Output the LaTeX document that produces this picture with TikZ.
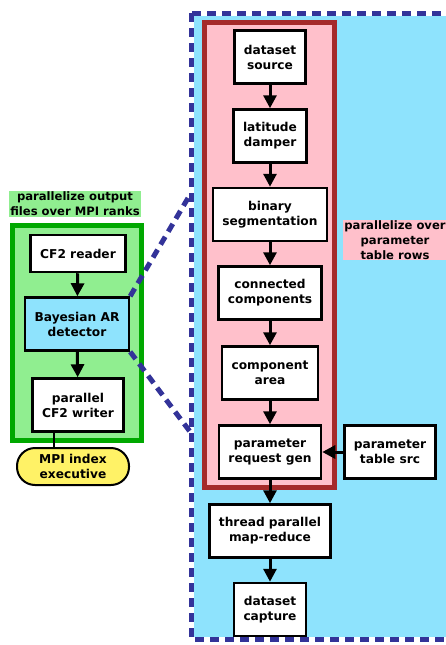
\documentclass[tikz,border=0pt]{standalone}
\usepackage{fontspec}
\setmainfont{DejaVu Sans}
\usetikzlibrary{arrows.meta}

\definecolor{skyblue}{HTML}{8EE3FD}
\definecolor{zoomnavy}{HTML}{333399}
\definecolor{rowpink}{HTML}{FFC0CB}
\definecolor{rowred}{HTML}{A52A2A}
\definecolor{rankgreen}{HTML}{90EE90}
\definecolor{rankborder}{HTML}{00A800}
\definecolor{execyellow}{HTML}{FFF266}

\begin{document}
\begin{tikzpicture}[x=1pt,y=-1pt,font=\fontsize{12.2}{15}\selectfont\bfseries]
		\tikzstyle{block} = [draw=black, line width=2.5pt, fill=white, align=center, inner xsep=9.5pt, minimum height=53pt]
		\tikzstyle{flow} = [-{Triangle[length=13pt,width=13pt]}, line width=3pt]
		\tikzstyle{zoomline} = [draw=zoomnavy, line width=5pt, dash pattern=on 9pt off 6pt]
		\tikzstyle{tag} = [align=center, inner sep=1pt, font=\fontsize{11.6}{15}\selectfont\bfseries]

		\clip (0,0) rectangle (446,645);

		% thread parallel region
		\fill[skyblue] (193.5,15.5) rectangle (470,636.5);
		\draw[zoomline] (191,13) rectangle (470,639);
		\draw[draw=rowred, line width=5pt, fill=rowpink] (204.5,22.5) rectangle (334.5,487.5);

		% MPI region
		\draw[draw=rankborder, line width=5pt, fill=rankgreen] (12.5,225.5) rectangle (141.5,440.5);
		\node[tag, fill=rankgreen] (ranklabel) at (75,204) {parallelize output\\files over MPI ranks};
		\node[tag, fill=rowpink] (rowlabel) at (395,240) {parallelize over\\parameter\\table rows};

		\node[block, minimum height=37pt] (reader) at (78,253.5) {CF2 reader};
		\node[block, fill=skyblue] (detector) at (77,324) {Bayesian AR\\detector};
		\node[block] (writer) at (78,405) {parallel\\CF2 writer};
		\node[draw=black, line width=2pt, fill=execyellow, align=center, rounded corners=18pt,
			minimum width=112pt, minimum height=37pt, inner sep=2pt] (exec) at (73,466.5) {MPI index\\executive};

		% pipeline
		\node[block] (source) at (270,57) {dataset\\source};
		\node[block] (damper) at (270,136) {latitude\\damper};
		\node[block] (segment) at (270,214.5) {binary\\segmentation};
		\node[block] (components) at (270,293) {connected\\components};
		\node[block] (area) at (270,373) {component\\area};
		\node[block] (reqgen) at (270,452) {parameter\\request gen};
		\node[block] (tablesrc) at (390,452) {parameter\\table src};
		\node[block] (mapreduce) at (270,531) {thread parallel\\map-reduce};
		\node[block] (capture) at (270,609.5) {dataset\\capture};

		\draw[flow] (reader) -- (detector);
		\draw[flow] (detector) -- (writer);
		\draw[line width=1.5pt] ([xshift=-24pt]writer.south) -- ([xshift=-24pt]writer.south |- exec.north);

		\draw[flow] (source) -- (damper);
		\draw[flow] (damper) -- (segment);
		\draw[flow] (segment) -- (components);
		\draw[flow] (components) -- (area);
		\draw[flow] (area) -- (reqgen);
		\draw[flow] (tablesrc) -- (reqgen);
		\draw[flow] (reqgen) -- (mapreduce);
		\draw[flow] (mapreduce) -- (capture);

		% zoom lines
		\coordinate (zoomtop) at (191,193);
		\coordinate (zoombot) at (191,433);
		\draw[zoomline] (detector.north east) -- (zoomtop);
		\draw[zoomline] (detector.south east) -- (zoombot);
\end{tikzpicture}
\end{document}
